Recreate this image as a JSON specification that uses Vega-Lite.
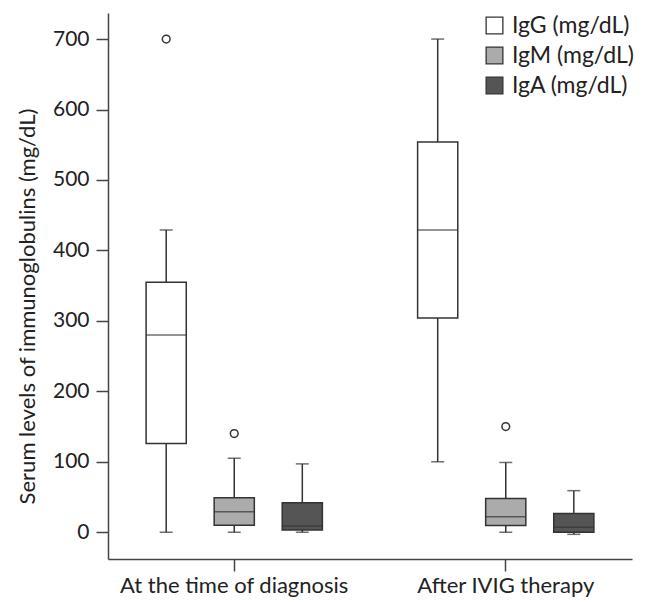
{
  "$schema": "https://vega.github.io/schema/vega-lite/v6.json",
  "autosize": "none",
  "width": 524,
  "height": 546,
  "padding": {"left": 108, "top": 13, "right": 17, "bottom": 44},
  "background": "white",
  "config": {
    "view": {"stroke": null},
    "font": "Lato",
    "axis": {"grid": false, "domainColor": "#444", "domainWidth": 1.5, "tickColor": "#444", "tickWidth": 1.5, "tickSize": 12, "labelColor": "#222", "titleColor": "#222", "labelFont": "Lato", "titleFont": "Lato", "labelLimit": 0}
  },
  "datasets": {
    "boxes": [
      {"group": "At the time of diagnosis", "ig": "IgG (mg/dL)", "lower": 0, "q1": 126, "median": 280, "q3": 355, "upper": 429},
      {"group": "At the time of diagnosis", "ig": "IgM (mg/dL)", "lower": 0, "q1": 10, "median": 29, "q3": 49, "upper": 105},
      {"group": "At the time of diagnosis", "ig": "IgA (mg/dL)", "lower": 0, "q1": 3, "median": 9, "q3": 42, "upper": 97},
      {"group": "After IVIG therapy", "ig": "IgG (mg/dL)", "lower": 100, "q1": 304, "median": 429, "q3": 554, "upper": 700},
      {"group": "After IVIG therapy", "ig": "IgM (mg/dL)", "lower": 0, "q1": 9.5, "median": 22, "q3": 48, "upper": 99},
      {"group": "After IVIG therapy", "ig": "IgA (mg/dL)", "lower": -3, "q1": 0, "median": 7, "q3": 26.5, "upper": 59}
    ],
    "outliers": [
      {"group": "At the time of diagnosis", "ig": "IgG (mg/dL)", "value": 700},
      {"group": "At the time of diagnosis", "ig": "IgM (mg/dL)", "value": 140},
      {"group": "After IVIG therapy", "ig": "IgM (mg/dL)", "value": 150}
    ]
  },
  "encoding": {
    "x": {
      "field": "group", "type": "nominal",
      "sort": ["At the time of diagnosis", "After IVIG therapy"],
      "scale": {"paddingInner": 0.07, "paddingOuter": 0},
      "axis": {"title": null, "labelAngle": 0, "labelFontSize": 22, "labelPadding": 4}
    },
    "xOffset": {
      "field": "ig", "type": "nominal",
      "sort": ["IgG (mg/dL)", "IgM (mg/dL)", "IgA (mg/dL)"],
      "scale": {"paddingInner": 0.41, "paddingOuter": 0.56}
    }
  },
  "layer": [
    {
      "data": {"name": "boxes"},
      "mark": {"type": "rule", "color": "#333", "strokeWidth": 1.5},
      "encoding": {
        "y": {"field": "lower", "type": "quantitative",
          "scale": {"domain": [-38, 737], "nice": false, "zero": false},
          "axis": {"values": [0, 100, 200, 300, 400, 500, 600, 700], "title": "Serum levels of immunoglobulins (mg/dL)", "labelFontSize": 21, "labelPadding": 7, "titleFontSize": 22, "titleFontWeight": "normal", "titlePadding": 13, "titleY": 293}},
        "y2": {"field": "upper"}
      }
    },
    {
      "data": {"name": "boxes"},
      "mark": {"type": "tick", "color": "#333", "size": 13, "thickness": 1.5},
      "encoding": {"y": {"field": "lower", "type": "quantitative"}}
    },
    {
      "data": {"name": "boxes"},
      "mark": {"type": "tick", "color": "#333", "size": 13, "thickness": 1.5},
      "encoding": {"y": {"field": "upper", "type": "quantitative"}}
    },
    {
      "data": {"name": "boxes"},
      "mark": {"type": "bar", "stroke": "#333", "strokeWidth": 1.5, "opacity": 1},
      "encoding": {
        "y": {"field": "q1", "type": "quantitative"},
        "y2": {"field": "q3"},
        "fill": {
          "field": "ig", "type": "nominal",
          "sort": ["IgG (mg/dL)", "IgM (mg/dL)", "IgA (mg/dL)"],
          "scale": {"range": ["#ffffff", "#ababab", "#555555"]},
          "legend": {
            "title": null, "orient": "none", "legendX": 375, "legendY": 1,
            "symbolType": "square", "symbolSize": 280, "symbolStrokeColor": "#333", "symbolStrokeWidth": 1.3,
            "labelFont": "Lato", "labelFontSize": 23, "labelColor": "#222", "labelOffset": 6, "rowPadding": 6
          }
        }
      }
    },
    {
      "data": {"name": "boxes"},
      "mark": {"type": "tick", "color": "#333", "size": 40, "thickness": 1.5},
      "encoding": {"y": {"field": "median", "type": "quantitative"}}
    },
    {
      "data": {"name": "outliers"},
      "mark": {"type": "point", "shape": "circle", "filled": false, "color": "#333", "size": 60, "strokeWidth": 1.5, "opacity": 1},
      "encoding": {"y": {"field": "value", "type": "quantitative"}}
    }
  ]
}
